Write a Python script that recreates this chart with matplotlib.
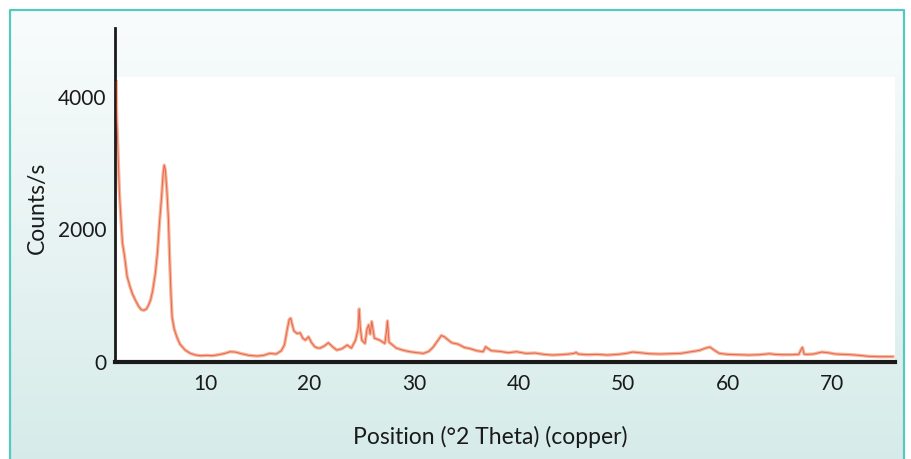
import numpy as np
import matplotlib
matplotlib.use('Agg')
import matplotlib.pyplot as plt

# diffraction pattern
two_theta = [
    1.5, 1.55, 1.6, 1.7, 1.8, 1.9, 2.0, 2.1, 2.3, 2.55,
    2.8, 3.05, 3.35, 3.65, 3.9, 4.15, 4.4, 4.6, 4.8, 5.0,
    5.25, 5.45, 5.67, 5.85, 6.0, 6.1, 6.2, 6.35, 6.5, 6.62,
    6.75, 6.85, 7.05, 7.3, 7.6, 8.1, 8.6, 9.1, 9.6, 10.2,
    10.7, 11.3, 11.9, 12.4, 12.9, 13.5, 14.2, 15.0, 15.6, 16.2,
    16.8, 17.3, 17.6, 17.85, 18.05, 18.2, 18.35, 18.5, 18.8, 19.1,
    19.35, 19.6, 19.9, 20.2, 20.5, 20.8, 21.0, 21.4, 21.8, 22.2,
    22.6, 23.1, 23.6, 24.0, 24.4, 24.65, 24.75, 24.85, 25.0, 25.3,
    25.5, 25.65, 25.8, 25.95, 26.2, 26.7, 27.2, 27.35, 27.45, 27.6,
    28.3, 29.0, 29.6, 30.3, 30.9, 31.4, 31.8, 32.3, 32.6, 32.9,
    33.2, 33.6, 34.2, 34.8, 35.4, 36.0, 36.6, 36.85, 37.0, 37.4,
    38.2, 39.0, 39.8, 40.7, 41.6, 42.4, 43.2, 44.0, 44.8, 45.3,
    45.5, 45.7, 46.5, 47.5, 48.5, 49.5, 50.3, 50.9, 51.6, 52.5,
    53.5, 54.5, 55.5, 56.5, 57.3, 57.9, 58.3, 58.7, 59.2, 60.0,
    61.0, 62.0, 63.0, 64.0, 64.5, 65.2, 66.0, 66.8, 67.05, 67.15,
    67.3, 67.5, 68.2, 69.0, 69.6, 70.3, 71.0, 71.8, 72.6, 73.5,
    74.5, 75.8,
]
counts = [
    4230, 3700, 3500, 3050, 2600, 2300, 2050, 1800, 1600, 1290,
    1150, 1030, 930, 840, 790, 780, 800, 860, 940, 1080,
    1340, 1650, 2150, 2500, 2850, 2970, 2900, 2600, 2150, 1550,
    1000, 680, 500, 380, 270, 180, 130, 105, 95, 100,
    95, 110, 130, 155, 150, 125, 100, 90, 100, 130,
    120, 170, 260, 480, 640, 660, 560, 470, 430, 440,
    360, 330, 380, 290, 230, 210, 210, 240, 290, 230,
    180, 200, 255, 210, 330, 500, 800, 520, 330, 280,
    500, 560, 420, 610, 360, 330, 280, 450, 620, 300,
    210, 175, 155, 140, 130, 160, 220, 330, 400, 380,
    340, 290, 270, 220, 200, 170, 155, 230, 210, 170,
    160, 140, 155, 130, 135, 115, 105, 110, 120, 130,
    145, 120, 110, 115, 105, 115, 130, 150, 140, 125,
    120, 125, 130, 155, 175, 210, 225, 180, 130, 115,
    110, 105, 110, 125, 115, 110, 110, 115, 200, 220,
    120, 115, 120, 150, 140, 120, 115, 110, 100, 85,
    80, 80,
]
xticks = [10, 20, 30, 40, 50, 60, 70]
yticks = [0, 2000, 4000]

W, H = 911, 459
fig = plt.figure(figsize=(W / 100, H / 100), dpi=100)
fig.patch.set_facecolor('white')

# panel background: soft gradient inside a teal frame
bg = fig.add_axes([0, 0, 1, 1], zorder=0)
bg.set_xlim(0, W)
bg.set_ylim(H, 0)
bg.axis('off')
grad = np.linspace(0, 1, 256).reshape(-1, 1)
cmap = matplotlib.colors.LinearSegmentedColormap.from_list('bgc', ['#f9fcfc', '#d5ebe9'])
bg.imshow(grad, cmap=cmap, extent=[10, 904, 475, 10], aspect='auto')
bg.plot([10, 10, 904, 904], [475, 10, 10, 475], color='#55c8bf', lw=1.6)

ax = fig.add_axes([115 / W, 1 - 362 / H, (895 - 115) / W, (362 - 28) / H], zorder=1)
ax.set_facecolor('none')
ax.set_xlim(1.39, 76.0)
ax.set_ylim(0, 5040)

# white plotting region
ax.axhspan(0, 4300, color='white', zorder=0)

ax.plot(two_theta, counts, color='#f7b596', lw=2.4, zorder=2, solid_joinstyle='round')
ax.plot(two_theta, counts, color='#d9312a', lw=0.7, alpha=0.6, zorder=3)

for s in ['top', 'right']:
    ax.spines[s].set_visible(False)
ax.spines['left'].set_linewidth(2)
ax.spines['bottom'].set_linewidth(3)
ax.spines['left'].set_color('#1a1a1a')
ax.spines['bottom'].set_color('#1a1a1a')

ax.set_xticks(xticks)
ax.set_yticks(yticks)
ax.tick_params(length=0, labelsize=15, colors='#1a1a1a')
ax.tick_params(axis='x', pad=9)
ax.tick_params(axis='y', pad=6)
for lab in ax.get_xticklabels() + ax.get_yticklabels():
    lab.set_family('Lato')

ax.set_xlabel('Position (°2 Theta) (copper)', fontsize=16.5, family='Lato', color='#1a1a1a')
ax.set_ylabel('Counts/s', fontsize=16.5, family='Lato', color='#1a1a1a')
ax.xaxis.set_label_coords((490 - 115) / 780, -(437 - 362) / 334)
ax.yaxis.set_label_coords(-(115 - 37) / 780, (362 - 208) / 334)
ax.xaxis.label.set_va('center')
ax.yaxis.label.set_va('center')

fig.savefig('out.png', dpi=100)
